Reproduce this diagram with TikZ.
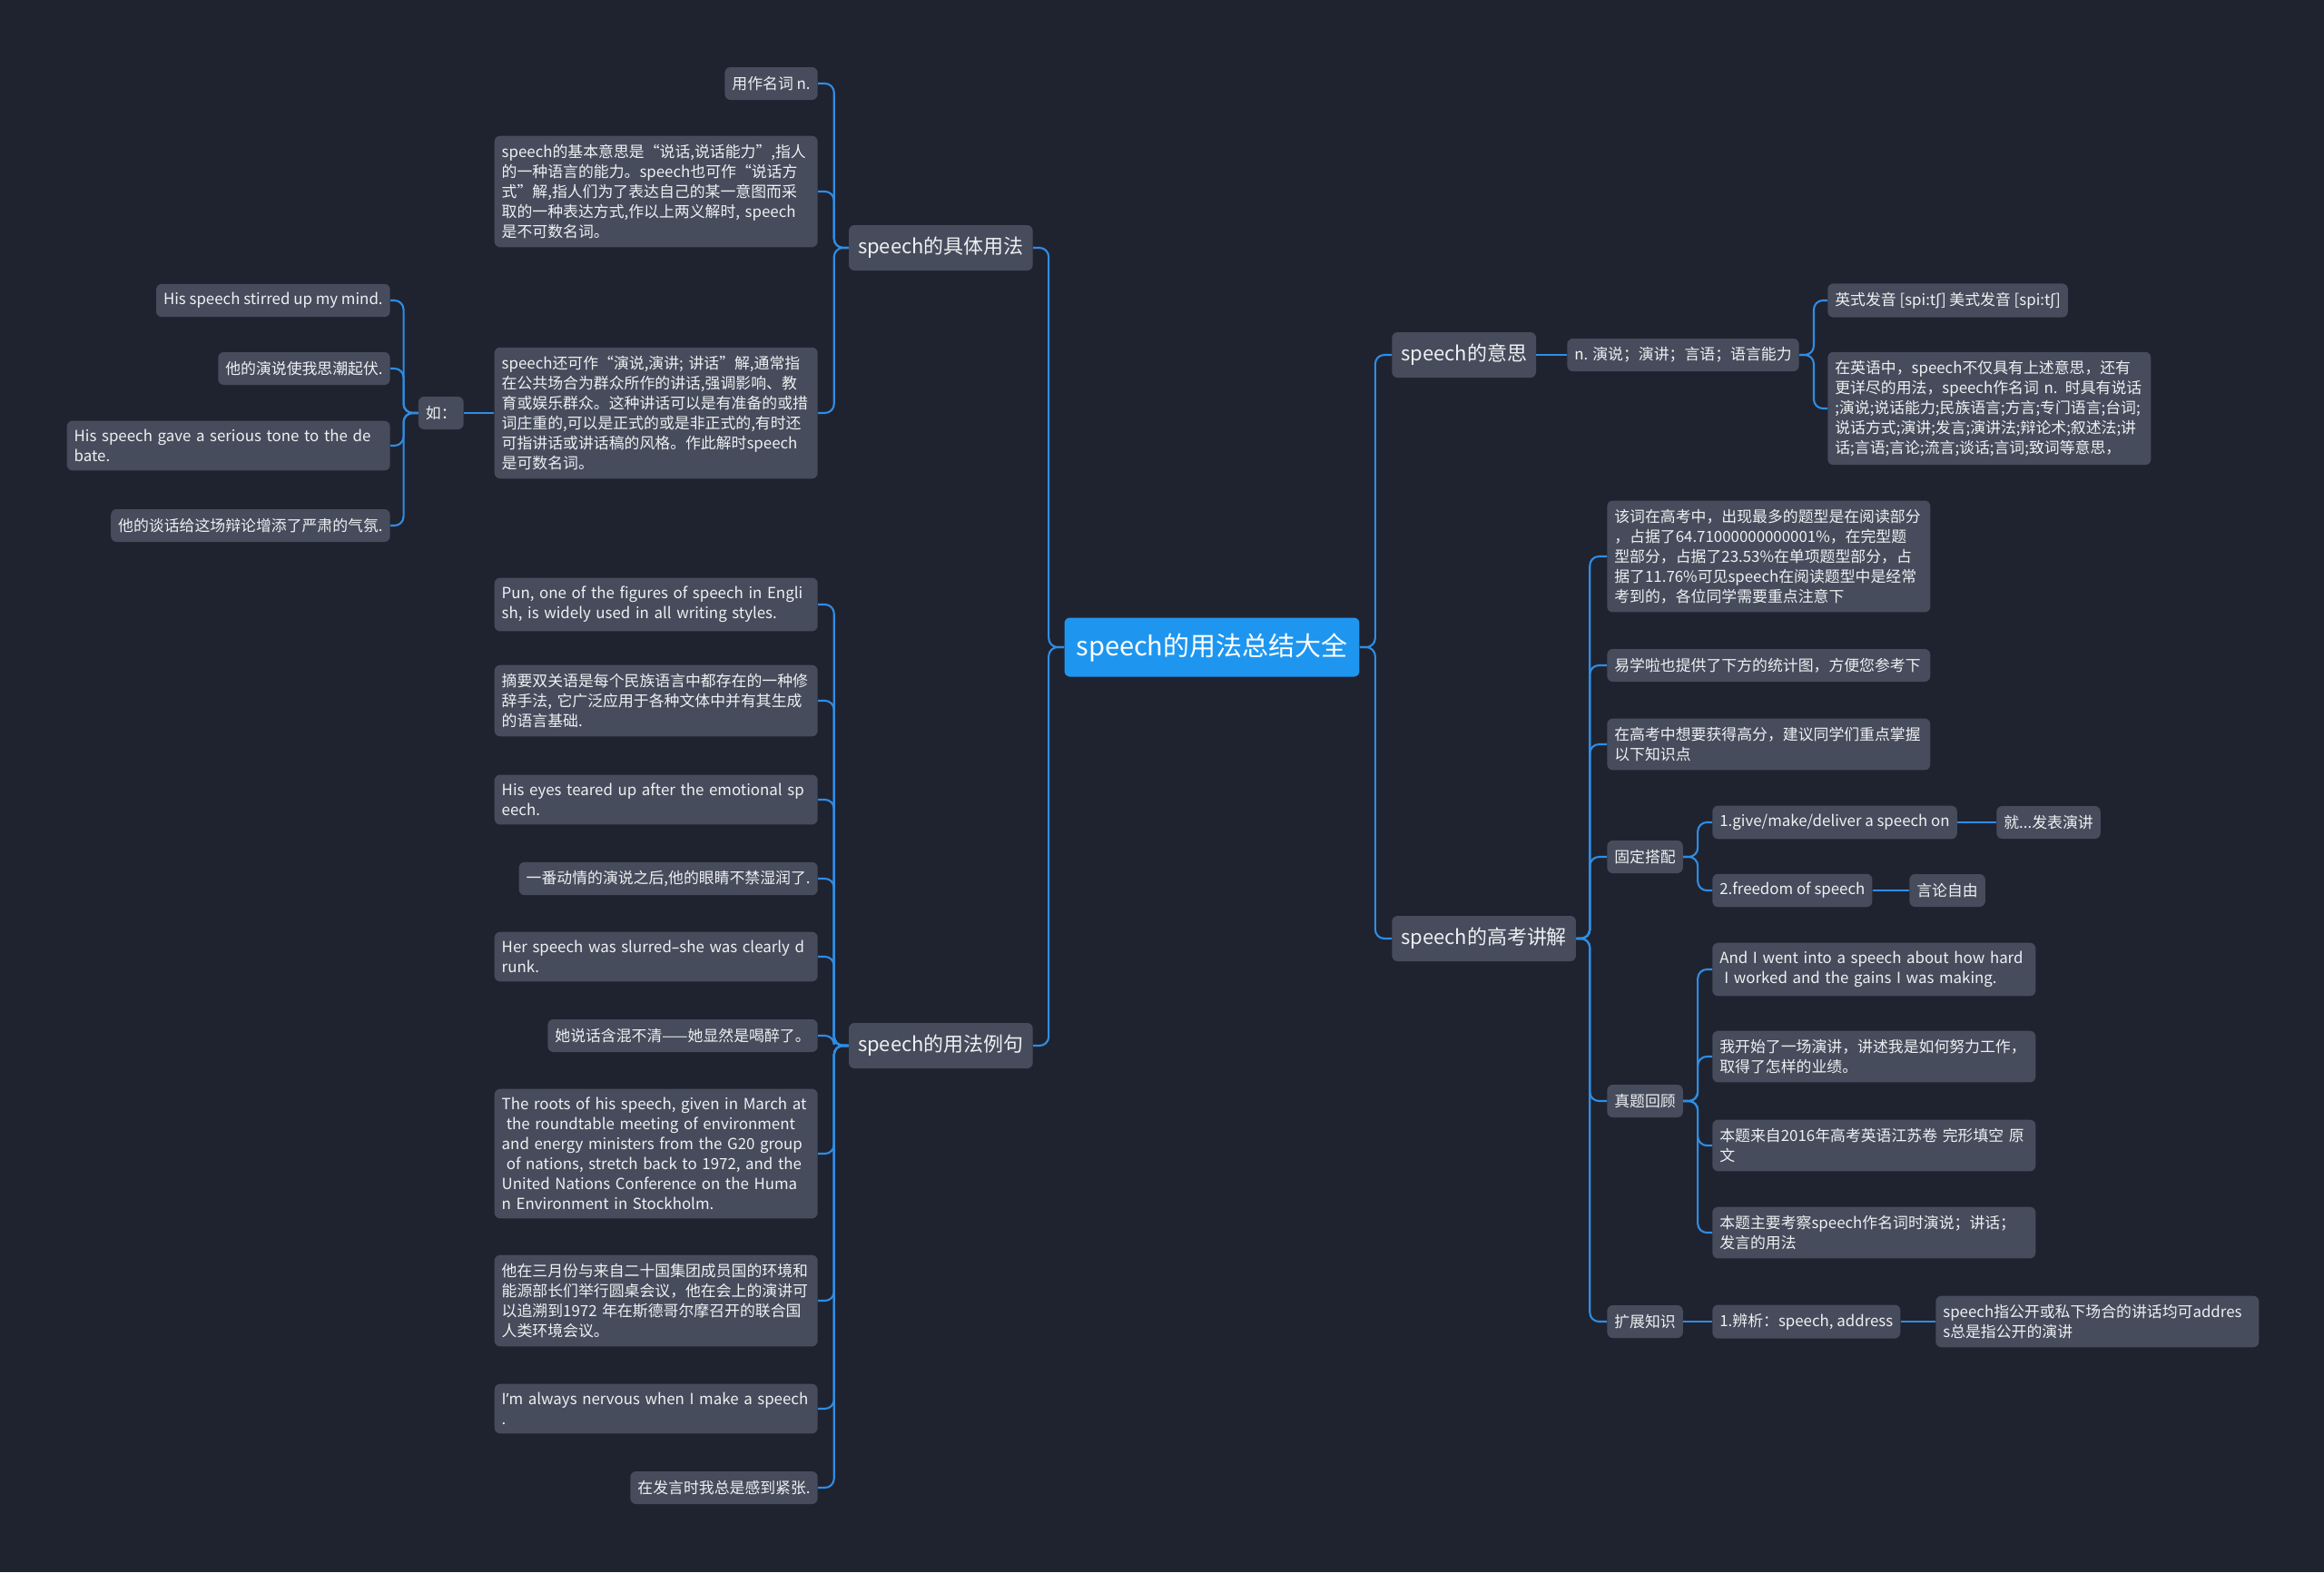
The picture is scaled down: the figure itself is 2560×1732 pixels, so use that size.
\documentclass[tikz,border=0pt]{standalone}
\usepackage{fontspec}
\setmainfont{Noto Sans CJK SC}
\newfontfamily\ipafont{DejaVu Sans}
\newfontfamily\latinfont{Noto Sans}
\usepackage{tikz}
\usetikzlibrary{positioning}

\definecolor{bgnavy}{HTML}{1F2330}
\definecolor{boxgrey}{HTML}{464C5B}
\definecolor{rootblue}{HTML}{1E96F0}
\definecolor{linkblue}{HTML}{2F8DE4}
\definecolor{txtwhite}{HTML}{EEF0F3}

\newcommand{\esh}{{\ipafont ʃ}}

\begin{document}
\begin{tikzpicture}[x=0.02cm, y=-0.02cm]
  \tikzstyle{leaf} = [rectangle, fill=boxgrey, rounded corners=3.5pt, text=txtwhite, inner xsep=0.16cm, inner ysep=0.19cm, minimum height=0.72cm, font=\fontsize{9.6}{12.5}\selectfont]
  \tikzstyle{wide} = [leaf, text width=6.8cm, align=left]
  \tikzstyle{topic} = [leaf, inner xsep=0.2cm, minimum height=1cm, font=\fontsize{12.5}{15}\selectfont]
  \tikzstyle{root} = [leaf, fill=rootblue, text=white, inner xsep=0.26cm, minimum height=1.3cm, font=\fontsize{16.5}{20}\selectfont]
  \tikzstyle{link} = [draw=linkblue, line width=1.2pt, rounded corners=0.2cm]

  \fill[bgnavy] (0,0) rectangle (2560,1732);

  \node[root] (root) at (1335,713) {speech的用法总结大全};

  % left side
  \node[topic, anchor=east] (use) at (1138,273) {speech的具体用法};
  \node[topic, anchor=east] (ex) at (1138,1152) {speech的用法例句};

  \node[leaf, anchor=east] (use_n) at (901,92) {用作名词 n.};
  \node[wide, anchor=east] (use_basic) at (901,211) {speech的基本意思是“说话,说话能力”,指人\\的一种语言的能力。speech也可作“说话方\\式”解,指人们为了表达自己的某一意图而采\\取的一种表达方式,作以上两义解时, speech\\是不可数名词。};
  \node[wide, anchor=east] (use_count) at (901,455) {speech还可作“演说,演讲; 讲话”解,通常指\\在公共场合为群众所作的讲话,强调影响、教\\育或娱乐群众。这种讲话可以是有准备的或措\\词庄重的,可以是正式的或是非正式的,有时还\\可指讲话或讲话稿的风格。作此解时speech\\是可数名词。};
  \node[leaf, anchor=east] (ru) at (511,455) {如：};

  \node[leaf, anchor=east] (stir) at (430,331) {His speech stirred up my mind.};
  \node[leaf, anchor=east] (stir_cn) at (430,406) {他的演说使我思潮起伏.};
  \node[wide, anchor=east] (tone) at (430,491) {His speech gave a serious tone to the de\\bate.};
  \node[leaf, anchor=east] (tone_cn) at (430,579) {他的谈话给这场辩论增添了严肃的气氛.};

  \node[wide, anchor=east] (pun) at (901,666) {Pun, one of the figures of speech in Engli\\sh, is widely used in all writing styles.};
  \node[wide, anchor=east] (pun_cn) at (901,772) {摘要双关语是每个民族语言中都存在的一种修\\辞手法, 它广泛应用于各种文体中并有其生成\\的语言基础.};
  \node[wide, anchor=east] (tear) at (901,881) {His eyes teared up after the emotional sp\\eech.};
  \node[leaf, anchor=east] (tear_cn) at (901,968) {一番动情的演说之后,他的眼睛不禁湿润了.};
  \node[wide, anchor=east] (slur) at (901,1054) {\mbox{Her speech was slurred{\latinfont –}she was clearly d}\\runk.};
  \node[leaf, anchor=east] (slur_cn) at (901,1141) {她说话含混不清——她显然是喝醉了。};
  \node[wide, anchor=east] (roots) at (901,1271) {The roots of his speech, given in March at\\\hspace*{0.3em}the roundtable meeting of environment\\and energy ministers from the G20 group\\\hspace*{0.3em}of nations, stretch back to 1972, and the\\United Nations Conference on the Huma\\n Environment in Stockholm.};
  \node[wide, anchor=east] (roots_cn) at (901,1433) {他在三月份与来自二十国集团成员国的环境和\\能源部长们举行圆桌会议，他在会上的演讲可\\以追溯到1972 年在斯德哥尔摩召开的联合国\\人类环境会议。};
  \node[wide, anchor=east] (nerv) at (901,1552) {\mbox{I{\latinfont ’}m always nervous when I make a speech}\\.};
  \node[leaf, anchor=east] (nerv_cn) at (901,1639) {在发言时我总是感到紧张.};

  % right side
  \node[topic, anchor=west] (mean) at (1533,391) {speech的意思};
  \node[topic, anchor=west] (exam) at (1533,1034) {speech的高考讲解};

  \node[leaf, anchor=west] (mean_n) at (1726,391) {n. 演说；演讲；言语；语言能力};
  \node[leaf, anchor=west] (pron) at (2013,331) {英式发音 [spi:t\esh] 美式发音 [spi:t\esh]};
  \node[wide, anchor=west] (mean_en) at (2013,450) {在英语中，speech不仅具有上述意思，还有\\更详尽的用法，speech作名词 n. 时具有说话\\;演说;说话能力;民族语言;方言;专门语言;台词;\\说话方式;演讲;发言;演讲法;辩论术;叙述法;讲\\话;言语;言论;流言;谈话;言词;致词等意思，};

  \node[wide, anchor=west] (freq) at (1770,613) {该词在高考中，出现最多的题型是在阅读部分\\，占据了64.71000000000001\%，在完型题\\型部分，占据了23.53\%在单项题型部分，占\\据了11.76\%可见speech在阅读题型中是经常\\考到的，各位同学需要重点注意下};
  \node[wide, anchor=west] (stat) at (1770,733) {易学啦也提供了下方的统计图，方便您参考下};
  \node[wide, anchor=west] (tip) at (1770,820) {在高考中想要获得高分，建议同学们重点掌握\\以下知识点};
  \node[leaf, anchor=west] (fixed) at (1770,944) {固定搭配};
  \node[leaf, anchor=west] (give) at (1886,906) {1.give/make/deliver a speech on};
  \node[leaf, anchor=west] (give_cn) at (2199,906) {就...发表演讲};
  \node[leaf, anchor=west] (free) at (1886,981) {2.freedom of speech};
  \node[leaf, anchor=west] (free_cn) at (2103,981) {言论自由};
  \node[leaf, anchor=west] (review) at (1770,1213) {真题回顾};
  \node[wide, anchor=west] (went) at (1886,1068) {And I went into a speech about how hard\\\hspace*{0.3em}I worked and the gains I was making.};
  \node[wide, anchor=west] (went_cn) at (1886,1164) {我开始了一场演讲，讲述我是如何努力工作，\\取得了怎样的业绩。};
  \node[wide, anchor=west] (src) at (1886,1262) {本题来自2016年高考英语江苏卷 完形填空 原\\文};
  \node[wide, anchor=west] (focus) at (1886,1358) {本题主要考察speech作名词时演说；讲话；\\发言的用法};
  \node[leaf, anchor=west] (extra) at (1770,1456) {扩展知识};
  \node[leaf, anchor=west] (diff) at (1886,1456) {1.辨析：speech, address};
  \node[wide, anchor=west] (diff_en) at (2132,1456) {speech指公开或私下场合的讲话均可addres\\s总是指公开的演讲};

  % links
  \draw[link] (root.west) -- ++(-17,0) |- (use.east);
  \draw[link] (root.west) -- ++(-17,0) |- (ex.east);
  \draw[link] (root.east) -- ++(17,0) |- (mean.west);
  \draw[link] (root.east) -- ++(17,0) |- (exam.west);

  \draw[link] (use.west) -- ++(-16,0) |- (use_n.east);
  \draw[link] (use.west) -- ++(-16,0) |- (use_basic.east);
  \draw[link] (use.west) -- ++(-16,0) |- (use_count.east);
  \draw[link] (use_count.west) -- (ru.east);
  \draw[link] (ru.west) -- ++(-16,0) |- (stir.east);
  \draw[link] (ru.west) -- ++(-16,0) |- (stir_cn.east);
  \draw[link] (ru.west) -- ++(-16,0) |- (tone.east);
  \draw[link] (ru.west) -- ++(-16,0) |- (tone_cn.east);

  \draw[link] (ex.west) -- ++(-16,0) |- (pun.east);
  \draw[link] (ex.west) -- ++(-16,0) |- (pun_cn.east);
  \draw[link] (ex.west) -- ++(-16,0) |- (tear.east);
  \draw[link] (ex.west) -- ++(-16,0) |- (tear_cn.east);
  \draw[link] (ex.west) -- ++(-16,0) |- (slur.east);
  \draw[link] (ex.west) -- ++(-16,0) |- (slur_cn.east);
  \draw[link] (ex.west) -- ++(-16,0) |- (roots.east);
  \draw[link] (ex.west) -- ++(-16,0) |- (roots_cn.east);
  \draw[link] (ex.west) -- ++(-16,0) |- (nerv.east);
  \draw[link] (ex.west) -- ++(-16,0) |- (nerv_cn.east);

  \draw[link] (mean.east) -- (mean_n.west);
  \draw[link] (mean_n.east) -- ++(16,0) |- (pron.west);
  \draw[link] (mean_n.east) -- ++(16,0) |- (mean_en.west);

  \draw[link] (exam.east) -- ++(15,0) |- (freq.west);
  \draw[link] (exam.east) -- ++(15,0) |- (stat.west);
  \draw[link] (exam.east) -- ++(15,0) |- (tip.west);
  \draw[link] (exam.east) -- ++(15,0) |- (fixed.west);
  \draw[link] (exam.east) -- ++(15,0) |- (review.west);
  \draw[link] (exam.east) -- ++(15,0) |- (extra.west);
  \draw[link] (fixed.east) -- ++(16,0) |- (give.west);
  \draw[link] (fixed.east) -- ++(16,0) |- (free.west);
  \draw[link] (give.east) -- (give_cn.west);
  \draw[link] (free.east) -- (free_cn.west);
  \draw[link] (review.east) -- ++(16,0) |- (went.west);
  \draw[link] (review.east) -- ++(16,0) |- (went_cn.west);
  \draw[link] (review.east) -- ++(16,0) |- (src.west);
  \draw[link] (review.east) -- ++(16,0) |- (focus.west);
  \draw[link] (extra.east) -- (diff.west);
  \draw[link] (diff.east) -- (diff_en.west);
\end{tikzpicture}
\end{document}
